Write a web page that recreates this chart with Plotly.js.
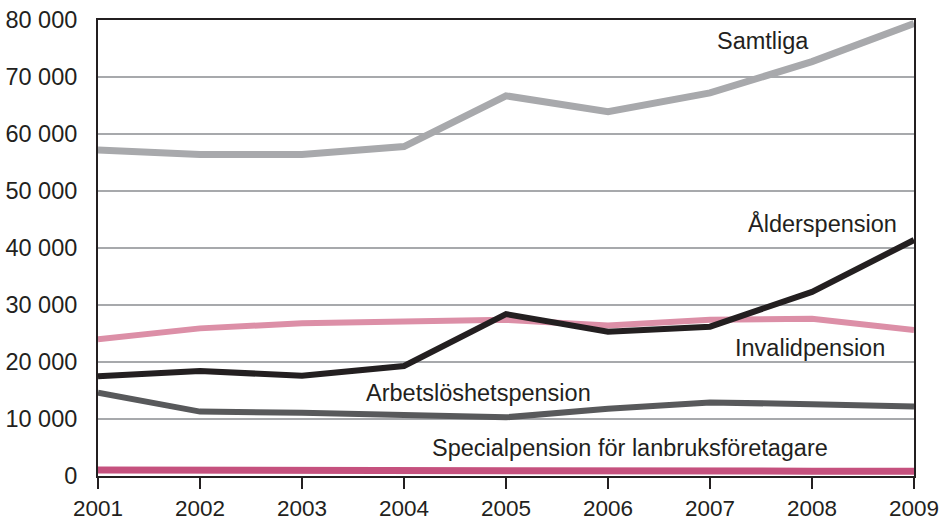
<!DOCTYPE html>
<html>
<head>
<meta charset="utf-8">
<script src="https://cdn.plot.ly/plotly-3.0.1.min.js"></script>
<style>html,body{margin:0;padding:0;background:#fff;}#chart{width:946px;height:524px;}</style>
</head>
<body>
<div id="chart"></div>
<script>
var years = [2001, 2002, 2003, 2004, 2005, 2006, 2007, 2008, 2009];
var samtliga = [57200, 56400, 56400, 57800, 66700, 63900, 67200, 72700, 79400];
var alderspension = [17500, 18400, 17600, 19300, 28400, 25300, 26200, 32300, 41400];
var invalidpension = [24000, 25900, 26800, 27000, 27400, 26400, 27400, 27600, 25600];
var arbetsloshetspension = [14600, 11300, 11100, 10700, 10300, 11800, 12900, 12600, 12200];
var specialpension = [1050, 1000, 800, 800, 900, 900, 850, 850, 850];
var yTickVals = [0, 10000, 20000, 30000, 40000, 50000, 60000, 70000, 80000];
var yTickText = ["0", "10 000", "20 000", "30 000", "40 000", "50 000", "60 000", "70 000", "80 000"];
var xTickText = ["2001", "2002", "2003", "2004", "2005", "2006", "2007", "2008", "2009"];

var FONT = "Liberation Sans, Arial, sans-serif";
function tr(y, color, width, name) {
  return {x: years, y: y, type: "scatter", mode: "lines", name: name,
    line: {color: color, width: width, shape: "linear"}, hoverinfo: "skip"};
}
var data = [
  tr(samtliga, "#a8a9ac", 7, "Samtliga"),
  tr(invalidpension, "#dc8fa7", 6, "Invalidpension"),
  tr(arbetsloshetspension, "#58595b", 6, "Arbetslöshetspension"),
  tr(alderspension, "#231f20", 6, "Ålderspension"),
  tr(specialpension, "#c5517e", 7, "Specialpension för lanbruksföretagare")
];
function ann(text, x, y) {
  return {text: text, x: x, y: y, xref: "x", yref: "y", showarrow: false,
    xanchor: "center", yanchor: "middle", font: {family: FONT, size: 23.5, color: "#231f20"}};
}
var layout = {
  width: 946, height: 524,
  margin: {l: 98, r: 32, t: 20, b: 48},
  paper_bgcolor: "#fff", plot_bgcolor: "#fff",
  showlegend: false,
  font: {family: FONT, size: 23, color: "#231f20"},
  xaxis: {range: [2001, 2009], tickvals: years, ticktext: xTickText,
    showgrid: false, zeroline: false, showline: true, mirror: true,
    linecolor: "#231f20", linewidth: 2, ticks: "outside", ticklen: 11, tickwidth: 2,
    tickcolor: "#231f20", ticklabelstandoff: 0, tickfont: {family: FONT, size: 22.5, color: "#231f20"}},
  yaxis: {range: [0, 80000], tickvals: yTickVals, ticktext: yTickText,
    showgrid: true, gridcolor: "#a7a9ac", gridwidth: 2, zeroline: false,
    showline: true, mirror: true, linecolor: "#231f20", linewidth: 2, ticks: "",
    ticklabelstandoff: 14, tickfont: {family: FONT, size: 23.5, color: "#231f20"}},
  annotations: [
    ann("Samtliga", 2007.52, 76400),
    ann("Ålderspension", 2008.1, 44300),
    ann("Invalidpension", 2007.98, 22500),
    ann("Arbetslöshetspension", 2004.735, 14550),
    ann("Specialpension för lanbruksföretagare", 2006.22, 4900)
  ]
};
Plotly.newPlot("chart", data, layout, {staticPlot: true, displayModeBar: false});
</script>
</body>
</html>
